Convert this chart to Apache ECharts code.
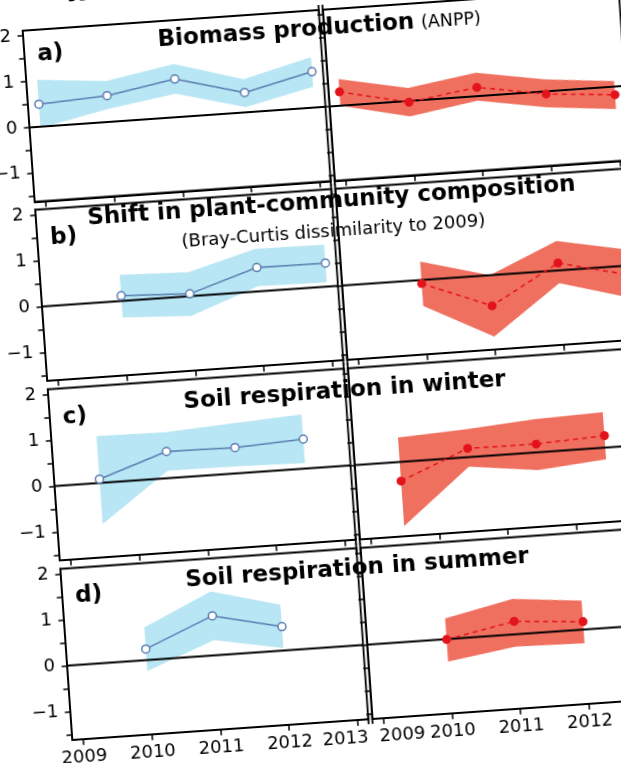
<!DOCTYPE html>
<html><head><meta charset="utf-8">
<script src="https://cdn.jsdelivr.net/npm/echarts@6/dist/echarts.min.js"></script>
<style>
html,body{margin:0;padding:0;background:#fff;overflow:hidden;width:621px;height:763px;}
#wrap{position:absolute;left:0;top:0;width:621px;height:763px;overflow:hidden;background:#fff;}
#chart{position:absolute;left:0;top:0;width:720px;height:820px;transform-origin:0 0;transform:translate(-39.94px,-5px) rotate(-4deg);}
</style></head><body><div id="wrap"><div id="chart"></div></div>
<script>
// ---------- data ----------
const columnTitles = ['Winter warming'];
const panelLabels = ['a)', 'b)', 'c)', 'd)'];
const panelTitles = ['Biomass production', 'Shift in plant-community composition', 'Soil respiration in winter', 'Soil respiration in summer'];
const panelSubTitles = ['(ANPP)', '(Bray-Curtis dissimilarity to 2009)', '', ''];
const yearTicks = [2009, 2010, 2011, 2012, 2013];
const yTickLabels = [-1, 0, 1, 2];
const yMinorTicks = [-1.5, -1, -0.5, 0, 0.5, 1, 1.5, 2];

// a) Biomass production
const xA = [2009, 2010, 2011, 2012, 2013];
const leftA = [0.49, 0.57, 0.83, 0.43, 0.78];
const leftA_lo = [-0.03, 0.28, 0.51, 0.11, 0.45];
const leftA_hi = [1.02, 0.89, 1.16, 0.72, 1.10];
const rightA = [0.30, -0.03, 0.19, -0.06, -0.18];
const rightA_lo = [0.00, -0.34, -0.10, -0.35, -0.49];
const rightA_hi = [0.58, 0.28, 0.51, 0.26, 0.12];
// b) Shift in plant-community composition
const xB = [2010, 2011, 2012, 2013];
const leftB = [0.11, 0.05, 0.52, 0.51];
const leftB_lo = [-0.36, -0.43, 0.11, 0.09];
const leftB_hi = [0.57, 0.52, 0.93, 0.91];
const rightB = [-0.08, -0.67, 0.16, -0.20];
const rightB_lo = [-0.57, -1.34, -0.28, -0.70];
const rightB_hi = [0.40, 0.00, 0.64, 0.35];
// c) Soil respiration in winter
const xC = [2009.5, 2010.5, 2011.5, 2012.5];
const leftC = [0.08, 0.58, 0.56, 0.64];
const leftC_lo = [-0.90, 0.16, 0.15, 0.12];
const leftC_hi = [1.02, 1.00, 1.09, 1.18];
const rightC = [-0.42, 0.19, 0.18, 0.26];
const rightC_lo = [-1.40, -0.21, -0.39, -0.26];
const rightC_hi = [0.53, 0.61, 0.72, 0.77];
// d) Soil respiration in summer
const xD = [2010, 2011, 2012];
const leftD = [0.24, 0.86, 0.52];
const leftD_lo = [-0.24, 0.33, 0.05];
const leftD_hi = [0.71, 1.39, 1.00];
const rightD = [-0.01, 0.28, 0.17];
const rightD_lo = [-0.49, -0.27, -0.30];
const rightD_hi = [0.45, 0.77, 0.63];

// ---------- layout / style ----------
const FONT = '"DejaVu Sans", sans-serif';
const TICK_FS = 18;
const X_MIN = 2008.84, X_MAX = 2013.16, Y_MIN = -1.62, Y_MAX = 2.11;
const ROW_TOPS = [40, 219.5, 399.5, 579.5];
const LABEL_DY = [25, 30, 30, 29];
const ROW_H = 171.3, COL_LEFTS = [60, 360.7], COL_W = 296.7;
const FRAME_W = 1.8;
const BLUE = '#5b7db1', BLUE_BAND = '#b8e6f4', RED = '#e3131b', RED_BAND = '#f0705f';

const rows = [
  {x: xA, l: leftA, llo: leftA_lo, lhi: leftA_hi, r: rightA, rlo: rightA_lo, rhi: rightA_hi},
  {x: xB, l: leftB, llo: leftB_lo, lhi: leftB_hi, r: rightB, rlo: rightB_lo, rhi: rightB_hi},
  {x: xC, l: leftC, llo: leftC_lo, lhi: leftC_hi, r: rightC, rlo: rightC_lo, rhi: rightC_hi},
  {x: xD, l: leftD, llo: leftD_lo, lhi: leftD_hi, r: rightD, rlo: rightD_lo, rhi: rightD_hi}
];

const grid = [], xAxis = [], yAxis = [], series = [];
function band(gi, xs, lo, hi, color) {
  return {
    type: 'custom', xAxisIndex: gi, yAxisIndex: gi, silent: true, z: 1,
    data: xs.map((x, i) => [x, lo[i], hi[i]]),
    renderItem(params, api) {
      if (params.dataIndex !== 0) return null;
      const pts = [];
      for (let i = 0; i < xs.length; i++) pts.push(api.coord([xs[i], hi[i]]));
      for (let i = xs.length - 1; i >= 0; i--) pts.push(api.coord([xs[i], lo[i]]));
      return {type: 'polygon', shape: {points: pts}, style: {fill: color}};
    }
  };
}
const labelRich = {
  l: {fontSize: TICK_FS, fontFamily: FONT, color: '#000', padding: [0, 26, 0, 0]},
  r: {fontSize: TICK_FS, fontFamily: FONT, color: '#000', padding: [0, 0, 0, 36]}
};
rows.forEach((row, r) => {
  [0, 1].forEach(c => {
    const gi = r * 2 + c;
    grid.push({left: COL_LEFTS[c], top: ROW_TOPS[r], width: COL_W, height: ROW_H,
      show: true, borderColor: '#000', borderWidth: FRAME_W, backgroundColor: 'transparent'});
    xAxis.push({gridIndex: gi, type: 'value', min: X_MIN, max: X_MAX,
      axisLine: {show: true, onZero: false, lineStyle: {color: '#000', width: FRAME_W}},
      axisTick: {show: true, customValues: yearTicks, length: 6, lineStyle: {color: '#000', width: 1.5}},
      axisLabel: {show: r === 3, customValues: yearTicks,
        formatter: v => (c === 0 && v === 2013 ? '{l|2013}' : (c === 1 && v === 2009 ? '{r|2009}' : String(v))),
        rich: labelRich,
        fontSize: TICK_FS, color: '#000', fontFamily: FONT, margin: 10},
      splitLine: {show: false}});
    yAxis.push({gridIndex: gi, type: 'value', min: Y_MIN, max: Y_MAX,
      axisLine: {show: true, onZero: false, lineStyle: {color: '#000', width: FRAME_W}},
      axisTick: {show: true, customValues: yMinorTicks, length: 5.5, lineStyle: {color: '#000', width: 1.5}},
      axisLabel: {show: c === 0, customValues: yTickLabels,
        formatter: v => (v < 0 ? '\u2212' + Math.abs(v) : String(v)),
        fontSize: TICK_FS, color: '#000', fontFamily: FONT, margin: 12},
      splitLine: {show: false}});
    const vals = c === 0 ? row.l : row.r;
    const lo = c === 0 ? row.llo : row.rlo;
    const hi = c === 0 ? row.lhi : row.rhi;
    series.push(band(gi, row.x, lo, hi, c === 0 ? BLUE_BAND : RED_BAND));
    series.push({type: 'line', xAxisIndex: gi, yAxisIndex: gi, silent: true, z: 3,
      data: [[X_MIN, 0], [X_MAX, 0]], symbol: 'none',
      lineStyle: {color: '#000', width: 2}});
    series.push({type: 'line', xAxisIndex: gi, yAxisIndex: gi, silent: true, z: 4,
      data: row.x.map((x, i) => [x, vals[i]]),
      symbol: 'circle', symbolSize: c === 0 ? 8 : 9,
      lineStyle: c === 0 ? {color: BLUE, width: 1.5} : {color: RED, width: 1.5, type: [5, 4]},
      itemStyle: c === 0 ? {color: '#fff', borderColor: BLUE, borderWidth: 1.5} : {color: RED}});
  });
});

// text and axis-break marks
const graphic = [];
const CX = 356;
graphic.push({type: 'text', x: 208, y: 8, style: {text: columnTitles[0], font: 'bold 23px ' + FONT, fill: '#000', textAlign: 'center', textVerticalAlign: 'middle'}});
graphic.push({type: 'text', x: 194, y: 59, style: {text: panelTitles[0], font: 'bold 23px ' + FONT, fill: '#000', textAlign: 'left', textVerticalAlign: 'middle'}});
graphic.push({type: 'text', x: 458, y: 60, style: {text: panelSubTitles[0], font: '17.5px ' + FONT, fill: '#000', textAlign: 'left', textVerticalAlign: 'middle'}});
graphic.push({type: 'text', x: CX, y: 232, style: {text: panelTitles[1], font: 'bold 23px ' + FONT, fill: '#000', textAlign: 'center', textVerticalAlign: 'middle'}});
graphic.push({type: 'text', x: CX, y: 262, style: {text: panelSubTitles[1], font: '18px ' + FONT, fill: '#000', textAlign: 'center', textVerticalAlign: 'middle'}});
graphic.push({type: 'text', x: CX, y: 422, style: {text: panelTitles[2], font: 'bold 23px ' + FONT, fill: '#000', textAlign: 'center', textVerticalAlign: 'middle'}});
graphic.push({type: 'text', x: CX, y: 600, style: {text: panelTitles[3], font: 'bold 23px ' + FONT, fill: '#000', textAlign: 'center', textVerticalAlign: 'middle'}});
panelLabels.forEach((t, r) => {
  graphic.push({type: 'text', x: 73, y: ROW_TOPS[r] + LABEL_DY[r], style: {text: t, font: 'bold 23px ' + FONT, fill: '#000', textAlign: 'left', textVerticalAlign: 'middle'}});
});
ROW_TOPS.forEach(top => {
  [COL_LEFTS[0] + COL_W, COL_LEFTS[1]].forEach(xx => {
    [top, top + ROW_H].forEach(yy => {
      graphic.push({type: 'line', shape: {x1: xx, y1: yy - 5, x2: xx, y2: yy + 5}, style: {stroke: '#000', lineWidth: FRAME_W}});
    });
  });
});

const chart = echarts.init(document.getElementById('chart'), null, {renderer: 'canvas'});
chart.setOption({animation: false, backgroundColor: 'transparent', grid, xAxis, yAxis, series, graphic});
</script></body></html>
